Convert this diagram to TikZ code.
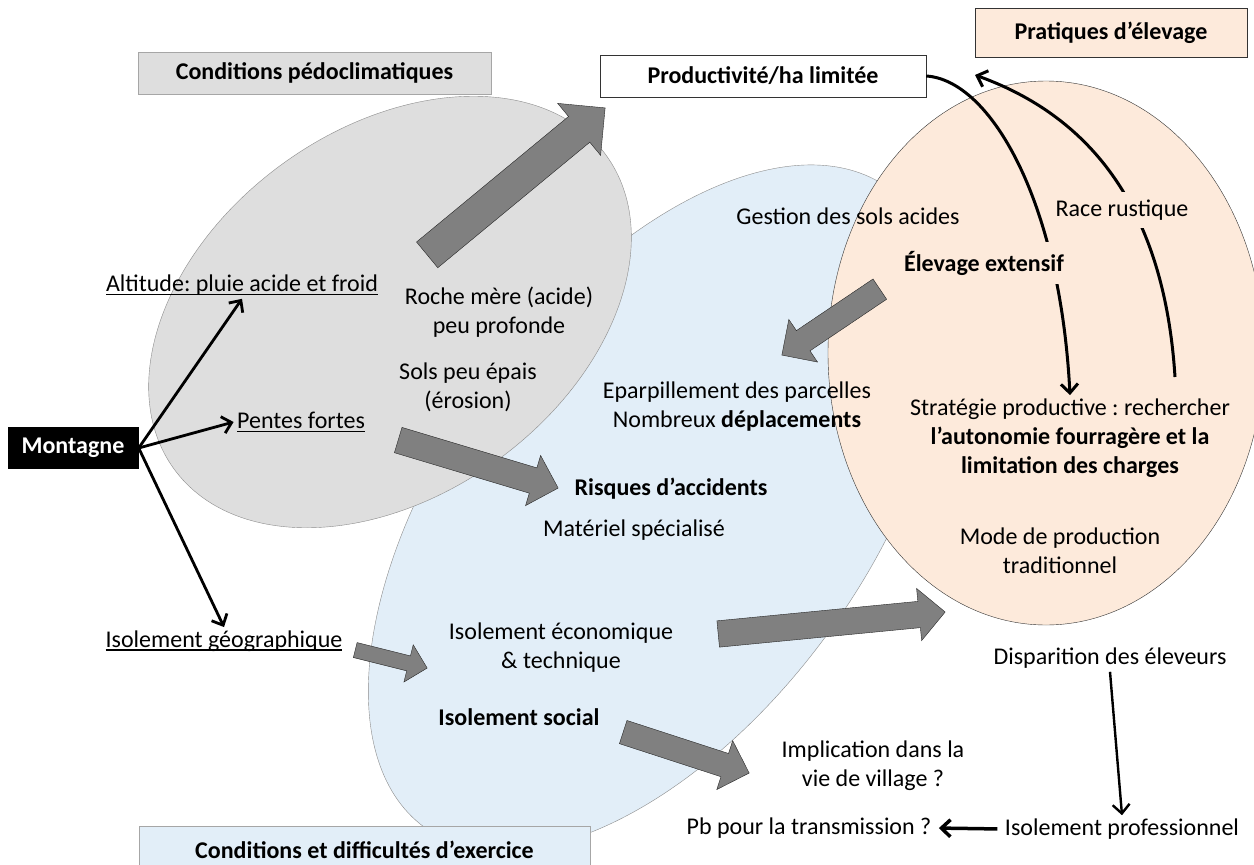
\documentclass[tikz,border=0pt]{standalone}
\usepackage{fontspec}
\setmainfont{Carlito}
\usetikzlibrary{shapes.arrows, arrows.meta, calc}
\frenchspacing
\newcommand\sz{\fontsize{24}{29}\selectfont}
\newcommand\ul[1]{\leavevmode\setbox0\hbox{#1}\rlap{\rule[-3.5pt]{\wd0}{1.3pt}}\box0}
\definecolor{pedofill}{HTML}{DEDEDE}
\definecolor{exerfill}{HTML}{E2EEF8}
\definecolor{elevfill}{HTML}{FDEADB}
\tikzset{txt/.style={align=center},
  fat/.style={single arrow, draw=black!85, fill=black!50, inner xsep=0pt,
    inner ysep=12.5pt, single arrow head extend=13.5pt, pos=0, anchor=tail,
    sloped, allow upside down},
  lnk/.style={-{Straight Barb[length=9pt, width=17pt]}, line width=2.8pt},
  curv/.style={-{Straight Barb[length=9pt, width=17pt]}, line width=3pt}}

\begin{document}
\begin{tikzpicture}[x=1pt, y=-1pt, font=\sz]
  \fill[white, use as bounding box] (0, 0) rectangle (1254, 865);

  \draw[draw=black!45, fill=exerfill, rotate around={54:(657, 508)}]
    (657, 508) ellipse [x radius=395, y radius=212];
  \draw[draw=black!45, fill=pedofill, rotate around={36:(390, 312)}]
    (390, 312) ellipse [x radius=267, y radius=183];
  \draw[draw=black!80, fill=elevfill] (1046, 353) ellipse [x radius=218, y radius=272];

  \node[draw=black!35, fill=pedofill, minimum width=353, minimum height=42]
    at (314.5, 73) (pedo) {\textbf{Conditions pédoclimatiques}};
  \node[draw=black!80, fill=white, minimum width=326, minimum height=42]
    at (763, 76) (prod) {\textbf{Productivité/ha limitée}};
  \node[draw=black!80, fill=elevfill, minimum width=272, minimum height=49]
    at (1111, 32.5) (prat) {\textbf{Pratiques d’élevage}};
  \node[draw=black!35, fill=exerfill, minimum width=451, minimum height=48]
    at (364.5, 850) (exer) {\textbf{Conditions et difficultés d’exercice}};
  \node[fill=black, text=white, minimum width=131, minimum height=42]
    at (73, 448) (mont) {\textbf{Montagne}};

  \node[txt] at (242, 285) (alt) {\ul{Altitude: pluie acide et froid}};
  \node[txt] at (301, 422) (pente) {\ul{Pentes fortes}};
  \node[txt] at (224, 641) (geo) {\ul{Isolement géographique}};
  \node[txt] at (499, 312) (roche) {Roche mère (acide)\\peu profonde};
  \node[txt] at (468, 387) (sols) {Sols peu épais\\(érosion)};
  \node[txt] at (848, 216) (gest) {Gestion des sols acides};
  \node[txt] at (737, 407) (epar) {Eparpillement des parcelles\\Nombreux \textbf{déplacements}};
  \node[txt] at (671, 489) (risq) {\textbf{Risques d’accidents}};
  \node[txt] at (634, 530) (mat) {Matériel spécialisé};
  \node[txt] at (1070, 438) (strat) {Stratégie productive : rechercher\\
    \textbf{l’autonomie fourragère et la}\\\textbf{limitation des charges}};
  \node[txt] at (1060, 551) (mode) {Mode de production\\traditionnel};
  \node[txt] at (561, 648) (eco) {Isolement économique\\\& technique};
  \node[txt] at (519, 717) (soc) {\textbf{Isolement social}};
  \node[txt] at (1110, 658) (disp) {Disparition des éleveurs};
  \node[txt] at (873, 766) (impl) {Implication dans la\\vie de village ?};
  \node[txt] at (809, 828) (pb) {Pb pour la transmission ?};
  \node[txt] at (1122, 829) (prof) {Isolement professionnel};

  \draw[lnk] (mont.east) -- (alt.south);
  \draw[lnk] (mont.east) -- (pente.west);
  \draw[lnk] (mont.east) -- (geo.north);
  \draw[lnk, line width=2.4pt] (disp.south) -- (prof.north);
  \draw[lnk, line width=3.5pt, shorten <=4pt, shorten >=4pt] (prof.west) -- (pb.east);

  \draw[curv] (prod.east) .. controls (990, 80) and (1060, 200) .. (strat.north);
  \coordinate (rs) at (1175, 377);
  \coordinate (re) at (975, 75);
  \draw[curv] (rs) .. controls (1165, 220) and (1100, 120) .. (re);
  \node[txt, fill=elevfill, inner xsep=4pt, inner ysep=9pt] at (984, 263) (elev)
    {\textbf{Élevage extensif}};
  \node[txt, fill=elevfill, inner xsep=4pt, inner ysep=8pt] at (1122, 210) (race)
    {Race rustique};

  \coordinate (a1) at (427, 255);
  \coordinate (b1) at (605, 108);
  \coordinate (a2) at (880, 289);
  \coordinate (b2) at (782, 355);
  \coordinate (a3) at (398, 440);
  \coordinate (b3) at (558, 488);
  \coordinate (a4) at (355, 650);
  \coordinate (b4) at (427, 668);
  \coordinate (a5) at (718, 634);
  \coordinate (b5) at (945, 612);
  \coordinate (a6) at (623, 732);
  \coordinate (b6) at (749, 773);
  \path let \p1 = ($(b1)-(a1)$), \n1 = {veclen(\x1,\y1)} in (a1) -- (b1)
    node[fat, inner ysep=16.5pt, single arrow head extend=17pt, minimum height=\n1] {};
  \path let \p1 = ($(b2)-(a2)$), \n1 = {veclen(\x1,\y1)} in (a2) -- (b2)
    node[fat, inner ysep=12pt, minimum height=\n1] {};
  \path let \p1 = ($(b3)-(a3)$), \n1 = {veclen(\x1,\y1)} in (a3) -- (b3)
    node[fat, inner ysep=13pt, single arrow head extend=13pt, minimum height=\n1] {};
  \path let \p1 = ($(b4)-(a4)$), \n1 = {veclen(\x1,\y1)} in (a4) -- (b4)
    node[fat, inner ysep=7.5pt, single arrow head extend=11.5pt, minimum height=\n1] {};
  \path let \p1 = ($(b5)-(a5)$), \n1 = {veclen(\x1,\y1)} in (a5) -- (b5)
    node[fat, inner ysep=13pt, single arrow head extend=13pt, minimum height=\n1] {};
  \path let \p1 = ($(b6)-(a6)$), \n1 = {veclen(\x1,\y1)} in (a6) -- (b6)
    node[fat, inner ysep=12pt, minimum height=\n1] {};
\end{tikzpicture}
\end{document}
